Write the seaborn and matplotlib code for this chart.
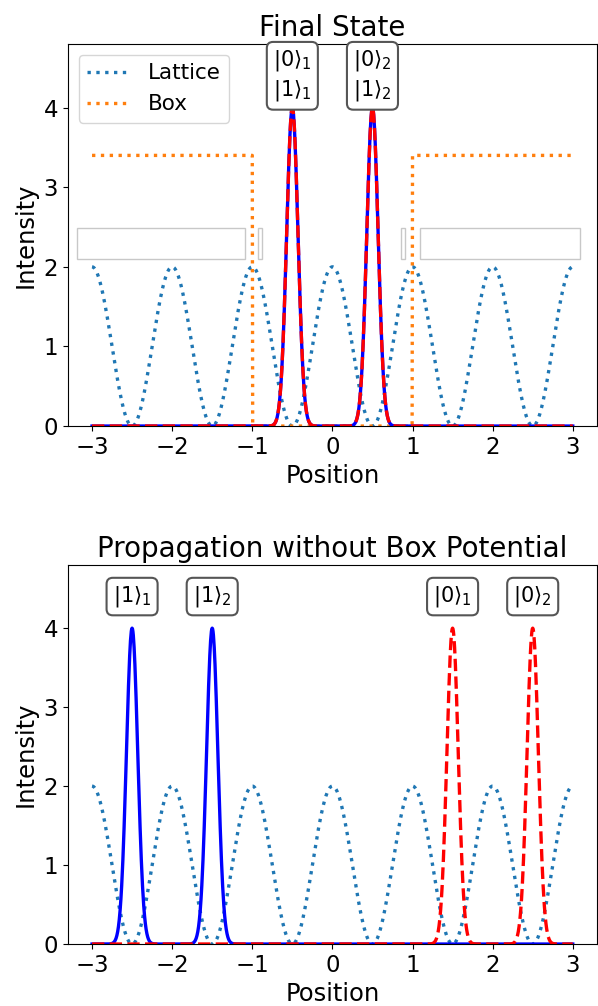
import numpy as np
import pandas as pd
import matplotlib
matplotlib.use("Agg")
import matplotlib.pyplot as plt
from matplotlib.patches import Rectangle
import seaborn as sns

# ---- data ----
x_range = [-3.0, 3.0]
lattice_depth = 2.0          # lattice peak intensity
lattice_period = 1.0
box_height = 3.4
box_half_width = 1.0
peak_height = 4.0
peak_width = 0.1             # exp(-((x-x0)/w)^2)

final_centers_0 = [-0.5, 0.5]
final_centers_1 = [-0.5, 0.5]
prop_centers_0 = [1.5, 2.5]
prop_centers_1 = [-2.5, -1.5]

final_labels = [r"$|0\rangle_1$" + "\n" + r"$|1\rangle_1$",
                r"$|0\rangle_2$" + "\n" + r"$|1\rangle_2$"]
prop_labels_1 = [r"$|1\rangle_1$", r"$|1\rangle_2$"]
prop_labels_0 = [r"$|0\rangle_1$", r"$|0\rangle_2$"]

# light panels seen in top plot (x0, x1, y0, y1)
panel_spans = [(-3.19, -1.09, 2.10, 2.49), (-0.93, -0.88, 2.10, 2.49),
               (0.85, 0.91, 2.10, 2.49), (1.09, 3.09, 2.10, 2.49)]

# ---- curves ----
x = np.linspace(x_range[0], x_range[1], 1201)
lattice = lattice_depth * np.cos(np.pi * x / lattice_period) ** 2
box = np.where(np.abs(x) >= box_half_width, box_height, 0.0)


def packet(centers):
    y = np.zeros_like(x)
    for c in centers:
        y += peak_height * np.exp(-((x - c) / peak_width) ** 2)
    return y


fig = plt.figure(figsize=(5.98, 10.06), dpi=100)
ax1 = fig.add_axes([0.1137, 0.5765, 0.8843, 0.3798])
ax2 = fig.add_axes([0.1137, 0.0616, 0.8843, 0.3768])

LABEL_FS = 17.5
TICK_FS = 16.5
TITLE_FS = 20
ANN_FS = 15
LEG_FS = 15.5
LW = 2.4

bbox = dict(boxstyle="round,pad=0.3", fc="white", ec="#555555", lw=1.5)


def draw(ax, centers_1, centers_0, with_box):
    sns.lineplot(x=x, y=lattice, ax=ax, color="tab:blue", linestyle=":",
                 lw=LW, label="Lattice" if with_box else None, estimator=None)
    if with_box:
        sns.lineplot(x=x, y=box, ax=ax, color="tab:orange", linestyle=":",
                     lw=LW, label="Box", estimator=None, sort=False)
    sns.lineplot(x=x, y=packet(centers_1), ax=ax, color="blue", lw=LW,
                 estimator=None)
    sns.lineplot(x=x, y=packet(centers_0), ax=ax, color="red", lw=LW,
                 linestyle="--", estimator=None)
    ax.set_xlim(-3.3, 3.3)
    ax.set_ylim(0, 4.8)
    ax.set_xlabel("Position", fontsize=LABEL_FS)
    ax.set_ylabel("Intensity", fontsize=LABEL_FS)
    ax.tick_params(labelsize=TICK_FS)


# top
draw(ax1, final_centers_1, final_centers_0, True)
for (x0, x1, y0, y1) in panel_spans:
    ax1.add_patch(Rectangle((x0, y0), x1 - x0, y1 - y0, fc="white",
                            ec="#c8c8c8", lw=1, zorder=1.5))
for c, lab in zip(final_centers_0, final_labels):
    ax1.text(c, 4.4, lab, ha="center", va="center", fontsize=ANN_FS,
             bbox=bbox, linespacing=1.3)
ax1.set_title("Final State", fontsize=TITLE_FS)
ax1.legend(loc="upper left", fontsize=LEG_FS, handlelength=2.0)

# bottom
draw(ax2, prop_centers_1, prop_centers_0, False)
for c, lab in zip(prop_centers_1, prop_labels_1):
    ax2.text(c, 4.4, lab, ha="center", va="center", fontsize=ANN_FS, bbox=bbox)
for c, lab in zip(prop_centers_0, prop_labels_0):
    ax2.text(c, 4.4, lab, ha="center", va="center", fontsize=ANN_FS, bbox=bbox)
ax2.set_title("Propagation without Box Potential", fontsize=TITLE_FS)
if ax2.get_legend() is not None:
    ax2.get_legend().remove()

fig.savefig("out.png", dpi=100)
